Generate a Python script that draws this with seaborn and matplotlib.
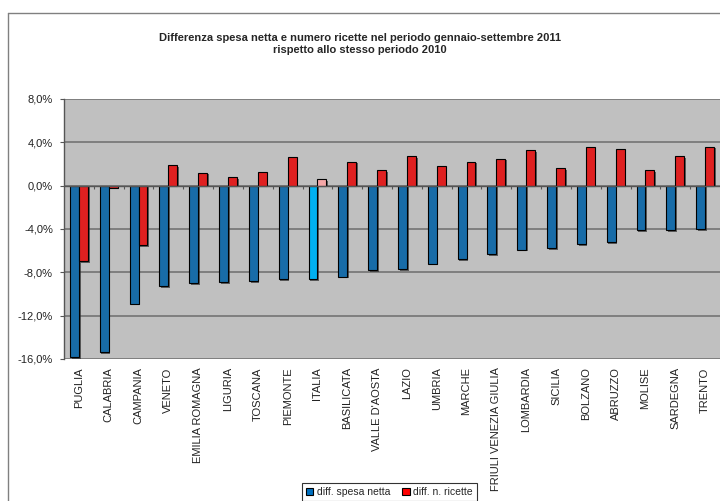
"""Differenza spesa netta e numero ricette, gen-set 2011 vs 2010."""

import numpy as np
import pandas as pd
import matplotlib
matplotlib.use("Agg")
import matplotlib.pyplot as plt
import matplotlib.patheffects as pe
from matplotlib.lines import Line2D
from matplotlib.patches import Patch
from matplotlib.ticker import FuncFormatter
import seaborn as sns

regioni = ["PUGLIA", "CALABRIA", "CAMPANIA", "VENETO", "EMILIA ROMAGNA", "LIGURIA",
           "TOSCANA", "PIEMONTE", "ITALIA", "BASILICATA", "VALLE D'AOSTA", "LAZIO",
           "UMBRIA", "MARCHE", "FRIULI VENEZIA GIULIA", "LOMBARDIA", "SICILIA",
           "BOLZANO", "ABRUZZO", "MOLISE", "SARDEGNA", "TRENTO"]
spesa_netta = [-15.8, -15.4, -10.9, -9.3, -9.0, -8.9, -8.8, -8.6, -8.6, -8.4, -7.8,
               -7.7, -7.2, -6.8, -6.3, -5.9, -5.8, -5.4, -5.2, -4.1, -4.1, -4.0]
n_ricette = [-7.0, -0.2, -5.5, 1.9, 1.2, 0.8, 1.3, 2.6, 0.6, 2.2, 1.4,
             2.7, 1.8, 2.2, 2.5, 3.3, 1.6, 3.6, 3.4, 1.4, 2.7, 3.6]
serie = ["diff. spesa netta", "diff. n. ricette"]
y_ticks = [8, 4, 0, -4, -8, -12, -16]

colori = {serie[0]: "#0070C0", serie[1]: "#FF0000"}
colori_italia = ["#00B0F0", "#F4A6A6"]

df = pd.DataFrame({
    "regione": regioni * 2,
    "valore": spesa_netta + n_ricette,
    "serie": [serie[0]] * len(regioni) + [serie[1]] * len(regioni),
})

sns.set_style("white")
plt.rcParams["font.family"] = ["Liberation Sans", "DejaVu Sans"]

fig = plt.figure(figsize=(7.2, 5.01), dpi=100)
ax = fig.add_axes([64 / 720, 1 - 359 / 501, (720 - 64) / 720, (359 - 99) / 501])
ax.set_facecolor("#C0C0C0")

sns.barplot(data=df, x="regione", y="valore", hue="serie", palette=colori,
            width=0.6, edgecolor="black", linewidth=0.8, ax=ax, legend=False)

ombra = [pe.SimplePatchShadow(offset=(1.2, -1.2), shadow_rgbFace="#303030", alpha=0.7),
         pe.Normal()]
i_italia = regioni.index("ITALIA")
for k, cont in enumerate(ax.containers):
    for bar in cont:
        bar.set_path_effects(ombra)
    cont[i_italia].set_facecolor(colori_italia[k])

ax.set_ylim(-16, 8)
ax.set_xlim(-0.5, len(regioni) - 0.5)
ax.set_yticks(y_ticks)
ax.yaxis.set_major_formatter(FuncFormatter(lambda v, p: f"{v:.1f}%".replace(".", ",")))
for v in y_ticks:
    ax.axhline(v, color="#7A7A7A", lw=1.3, zorder=0.5)
ax.axhline(0, color="#555555", lw=1.0, zorder=1)

# small category ticks on the zero line
confini = np.arange(len(regioni) - 1) + 0.5
ax.vlines(confini, -0.35, 0, color="#555555", lw=0.8, zorder=1)

for s in ["top", "right", "bottom"]:
    ax.spines[s].set_visible(False)
ax.spines["left"].set_color("#555555")
ax.spines["left"].set_linewidth(1.0)

ax.set_xlabel("")
ax.set_ylabel("")
ax.tick_params(axis="y", left=True, length=3, width=0.8, color="#555555", pad=5,
               labelsize=8, labelcolor="#222222")
ax.tick_params(axis="x", bottom=False, length=0, pad=6, labelsize=8,
               labelcolor="#222222", rotation=90)
for lab in ax.get_xticklabels():
    lab.set_verticalalignment("top")

fig.text(0.5, 1 - 38 / 501, "Differenza spesa netta e numero ricette nel periodo gennaio-settembre 2011",
         ha="center", va="center", fontsize=8, fontweight="bold")
fig.text(0.5, 1 - 50 / 501, "rispetto allo stesso periodo 2010",
         ha="center", va="center", fontsize=8, fontweight="bold")

# outer chart frame
fig.add_artist(Line2D([8 / 720, 8 / 720], [0, 1 - 13 / 501], color="#808080", lw=1.0))
fig.add_artist(Line2D([8 / 720, 1], [1 - 13 / 501, 1 - 13 / 501], color="#808080", lw=1.0))

handles = [Patch(facecolor=colori[s], edgecolor="black", linewidth=0.8) for s in serie]
leg = fig.legend(handles, serie, loc="upper left", bbox_to_anchor=(302 / 720, 1 - 483 / 501),
                 ncol=2, fontsize=7.5, frameon=True, fancybox=False, handlelength=0.7,
                 handleheight=0.7, handletextpad=0.3, columnspacing=1.2,
                 borderpad=0.4, borderaxespad=0)
leg.get_frame().set_edgecolor("black")
leg.get_frame().set_linewidth(0.8)

fig.savefig("out.png", dpi=100)
